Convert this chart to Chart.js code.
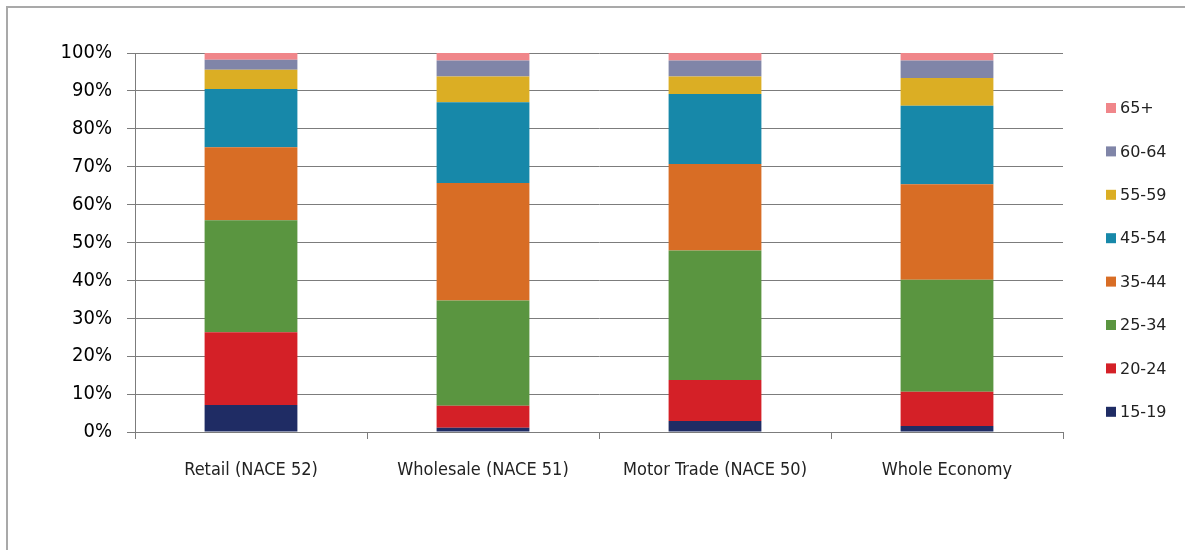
<!DOCTYPE html>
<html>
<head>
<meta charset="utf-8">
<script src="https://cdn.jsdelivr.net/npm/chart.js@4.4.1/dist/chart.umd.min.js"></script>
<style>
  html, body { margin: 0; padding: 0; background: #fff; overflow: hidden; }
  #wrap { position: relative; width: 1185px; height: 550px; }
  #frame { position: absolute; left: 6px; top: 6px; width: 1400px; height: 800px;
           border: 2px solid #a9a9a9; box-sizing: border-box; pointer-events: none; }
  canvas { position: absolute; left: 0; top: 0; }
</style>
</head>
<body>
<div id="wrap">
  <div id="frame"></div>
  <canvas id="c" width="1185" height="550"></canvas>
</div>
<script>
// Sectors shown on the category axis
const categories = ['Retail (NACE 52)', 'Wholesale (NACE 51)', 'Motor Trade (NACE 50)', 'Whole Economy'];

// Share of employment by age band (%), one value per sector
const age15to19 = [7.1, 1.1, 2.9, 1.6];
const age20to24 = [19.2, 5.8, 10.8, 9.0];
const age25to34 = [29.6, 27.8, 34.2, 29.6];
const age35to44 = [19.2, 31.0, 22.8, 25.2];
const age45to54 = [15.4, 21.3, 18.5, 20.7];
const age55to59 = [5.1, 6.8, 4.6, 7.3];
const age60to64 = [2.6, 4.2, 4.2, 4.6];
const age65plus = [1.8, 2.0, 2.0, 2.0];

const seriesLabels = ['15-19', '20-24', '25-34', '35-44', '45-54', '55-59', '60-64', '65+'];
const seriesColors = ['#1f2c64', '#d42027', '#5a9540', '#d86d25', '#1788a9', '#dbae24', '#8085a8', '#f0868a'];
const seriesValues = [age15to19, age20to24, age25to34, age35to44, age45to54, age55to59, age60to64, age65plus];

// Y-axis tick values
const yTicks = [0, 10, 20, 30, 40, 50, 60, 70, 80, 90, 100];

const datasets = seriesLabels.map((label, i) => ({
  label: label,
  data: seriesValues[i],
  backgroundColor: seriesColors[i],
  borderWidth: 0,
  categoryPercentage: 1.0,
  barPercentage: 0.4
}));

// Legend drawn on the right, top item = last series
const sideLegend = {
  id: 'sideLegend',
  afterDraw(chart) {
    const ctx = chart.ctx;
    const ds = chart.data.datasets;
    ctx.save();
    ctx.font = '16px "DejaVu Sans"';
    ctx.textBaseline = 'middle';
    ctx.textAlign = 'left';
    const x = 1106, startY = 108, step = 43.4;
    for (let k = 0; k < ds.length; k++) {
      const d = ds[ds.length - 1 - k];
      const y = startY + k * step;
      ctx.fillStyle = d.backgroundColor;
      ctx.fillRect(x, y - 5, 10, 10);
      ctx.fillStyle = '#222';
      ctx.fillText(d.label, x + 14, y + 1);
    }
    ctx.restore();
  }
};

new Chart(document.getElementById('c'), {
  type: 'bar',
  data: { labels: categories, datasets: datasets },
  options: {
    responsive: false,
    animation: false,
    events: [],
    layout: { padding: { top: 53, right: 122, left: 0, bottom: 0 } },
    plugins: { legend: { display: false }, tooltip: { enabled: false } },
    scales: {
      x: {
        stacked: true,
        afterFit(scale) { scale.height = 118; },
        grid: { offset: true, drawOnChartArea: false, drawTicks: true, tickLength: 7, color: '#7c7c7c', lineWidth: 1 },
        border: { display: true, color: '#7c7c7c', width: 1 },
        ticks: { color: '#222', padding: 21, font: { family: '"DejaVu Sans Condensed", "DejaVu Sans"', size: 18 } }
      },
      y: {
        stacked: true,
        min: 0,
        max: 100,
        afterFit(scale) { scale.width = 135; },
        afterBuildTicks(scale) { scale.ticks = yTicks.map(v => ({ value: v })); },
        grid: { color: '#7c7c7c', lineWidth: 1, drawTicks: true, tickLength: 8 },
        border: { display: true, color: '#7c7c7c', width: 1 },
        ticks: {
          color: '#000',
          padding: 15,
          font: { family: '"DejaVu Sans Condensed", "DejaVu Sans"', size: 20 },
          callback: v => v + '%'
        }
      }
    }
  },
  plugins: [sideLegend]
});
</script>
</body>
</html>
